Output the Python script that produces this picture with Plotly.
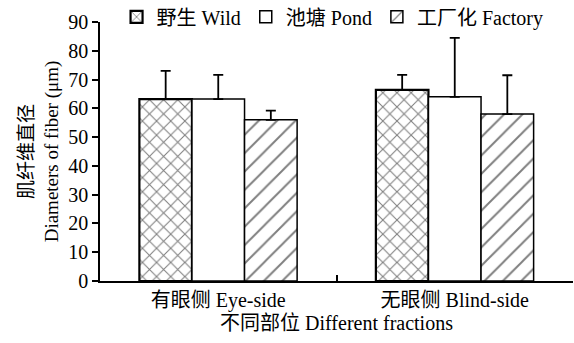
import plotly.graph_objects as go

categories = ["有眼侧 Eye-side", "无眼侧 Blind-side"]
series_names = ["野生 Wild", "池塘 Pond", "工厂化 Factory"]
wild = [63.2, 66.4]
wild_err = [9.8, 5.2]
pond = [63.2, 64.0]
pond_err = [8.4, 20.5]
factory = [56.0, 58.0]
factory_err = [3.2, 13.5]

font_family = "Liberation Serif, Times New Roman, Noto Sans CJK SC, serif"

patterns = [
    dict(shape="x", size=10, solidity=0.2, fgcolor="black", bgcolor="white"),
    dict(shape="", fgcolor="black", bgcolor="white"),
    dict(shape="/", size=13, solidity=0.15, fgcolor="black", bgcolor="white"),
]
outline_widths = [2.2, 1.5, 1.5]

fig = go.Figure()
for name, vals, errs, pat, lw in zip(series_names, [wild, pond, factory],
                                      [wild_err, pond_err, factory_err], patterns, outline_widths):
    fig.add_trace(go.Bar(
        x=categories, y=vals, name=name,
        marker=dict(color="white", line=dict(color="black", width=lw), pattern=pat),
        error_y=dict(type="data", symmetric=False, array=errs,
                     arrayminus=[0] * len(errs), color="black", thickness=1.8, width=5),
    ))

fig.update_layout(
    width=574, height=343,
    margin=dict(l=100, r=1, t=22, b=62, autoexpand=False),
    paper_bgcolor="white", plot_bgcolor="white",
    barmode="group", bargap=0.333, bargroupgap=0,
    font=dict(family=font_family, size=20, color="black"),
    showlegend=True,
    legend=dict(orientation="h", x=0.035, y=1.02, xanchor="left", yanchor="middle",
                font=dict(family=font_family, size=20), bgcolor="rgba(0,0,0,0)", itemwidth=30,
                traceorder="normal", tracegroupgap=0),
)
fig.update_xaxes(
    showline=True, linecolor="black", linewidth=1.5,
    ticks="inside", ticklen=6, tickwidth=1.5, tickcolor="black",
    tickson="boundaries", tickfont=dict(family=font_family, size=20),
    title=dict(text="不同部位 Different fractions", font=dict(family=font_family, size=20), standoff=5),
    showgrid=False, mirror=False,
)
fig.update_yaxes(
    range=[0, 90], dtick=10, showline=True, linecolor="black", linewidth=1.5,
    ticks="outside", ticklen=6, tickwidth=1.5, tickcolor="black",
    tickfont=dict(family=font_family, size=20),
    title=dict(text="肌纤维直径<br>Diameters of fiber (μm)", font=dict(family=font_family, size=19), standoff=5),
    showgrid=False, zeroline=False,
)

fig.write_html("out.html", config={"displayModeBar": False},
               post_script="document.body.style.margin='0';document.body.style.overflow='hidden';")
